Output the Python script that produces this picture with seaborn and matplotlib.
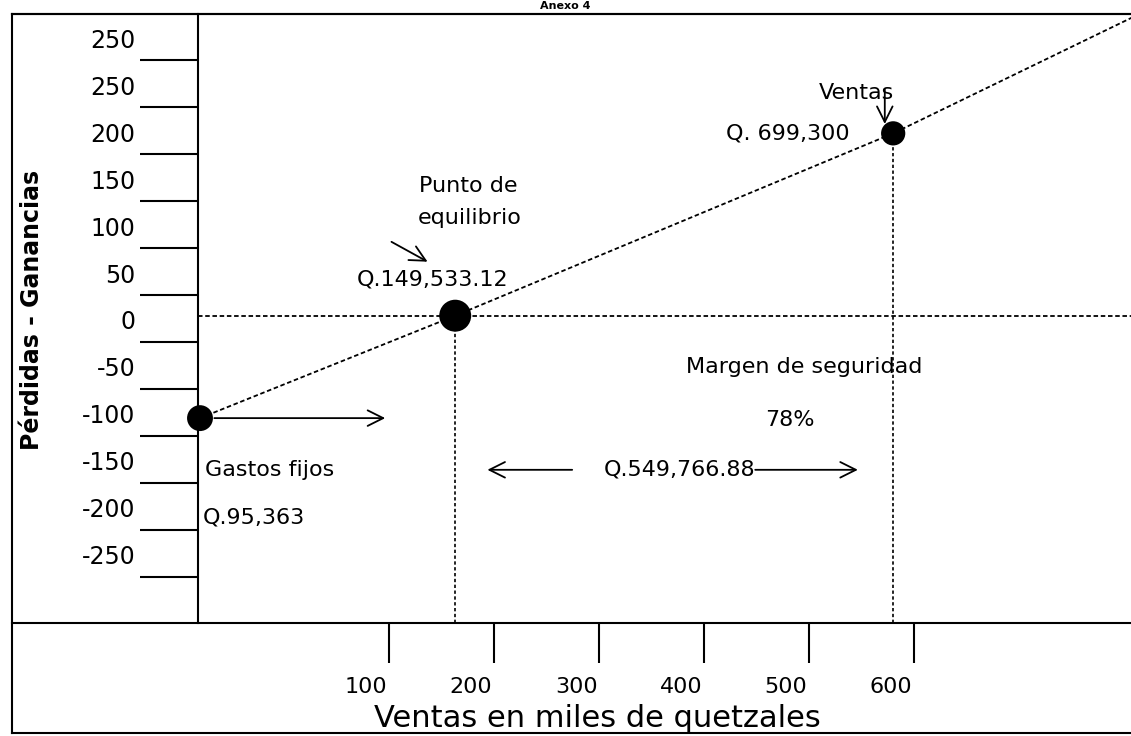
import numpy as np
import pandas as pd
import seaborn as sns
import matplotlib.pyplot as plt
import matplotlib.transforms as mtransforms

# valores (escala de los ticks, miles de quetzales)
puntos = ["Gastos fijos", "Punto de equilibrio", "Ventas"]
ventas_miles = [-80, 163, 580]
resultado_miles = [-81, 28, 222]
tamano_punto = [300, 470, 260]

# recta de ingresos / costos (sigue hasta la esquina)
recta_x = [-80, 163, 580, 807]
recta_y = [-81, 28, 222, 345]

x_ticks = [100, 200, 300, 400, 500, 600]
x_labels = ["100", "200", "300", "400", "500", "600"]
y_ticks = [300, 250, 200, 150, 100, 50, 0, -50, -100, -150, -200, -250]
y_labels = ["250", "250", "200", "150", "100", "50", "0", "-50", "-100", "-150", "-200", "-250"]
eje_y = -82  # cruce del eje vertical

df = pd.DataFrame({"punto": puntos, "ventas": ventas_miles, "resultado": resultado_miles,
                   "tam": tamano_punto})
recta = pd.DataFrame({"ventas": recta_x, "resultado": recta_y})

sns.set_style("white")
plt.rcParams["font.family"] = ["DejaVu Sans"]
plt.rcParams["text.color"] = "black"
plt.rcParams["axes.labelcolor"] = "black"
plt.rcParams["xtick.color"] = "black"
plt.rcParams["ytick.color"] = "black"

fig = plt.figure(figsize=(11.31, 7.36), dpi=100)

# marco exterior
frame = fig.add_axes([12 / 1131, 3 / 736, 1.2, 719 / 736])
frame.set_xticks([])
frame.set_yticks([])
frame.patch.set_alpha(0)
for s in frame.spines.values():
    s.set_linewidth(1.5)
    s.set_color("black")

ax = fig.add_axes([12 / 1131, 113 / 736, 1128 / 1131, 609 / 736])
ax.patch.set_alpha(0)
ax.set_xlim(-259, 815)
ax.set_ylim(-299, 349)

sns.lineplot(data=recta, x="ventas", y="resultado", sort=False, color="black",
             lw=1.3, linestyle=(0, (2.5, 1.5)), ax=ax)
ax.hlines(resultado_miles[1], eje_y, 815, color="black", lw=1.3, linestyles=[(0, (2.5, 1.5))])
ax.vlines(ventas_miles[1:], -299, resultado_miles[1:], color="black", lw=1.2,
          linestyles=[(0, (2, 1.5))])
sns.scatterplot(data=df, x="ventas", y="resultado", size="tam", sizes=(260, 470),
                color="black", edgecolor="black", legend=False, ax=ax, zorder=5)

# ejes
ax.spines["left"].set_position(("data", eje_y))
ax.spines["right"].set_visible(False)
for k in ["left", "top", "bottom"]:
    ax.spines[k].set_linewidth(1.5)
    ax.spines[k].set_color("black")

ax.set_yticks(y_ticks)
ax.set_yticklabels(y_labels, fontsize=17)
ax.set_xticks(x_ticks)
ax.set_xticklabels(x_labels, fontsize=16)
ax.tick_params(axis="y", direction="out", length=42, width=1.5, pad=3, left=True)
ax.tick_params(axis="x", direction="out", length=29, width=1.5, pad=10, bottom=True)
up = mtransforms.ScaledTranslation(0, 0.22, fig.dpi_scale_trans)
for lab in ax.get_yticklabels():
    lab.set_transform(lab.get_transform() + up)
left = mtransforms.ScaledTranslation(-0.23, 0, fig.dpi_scale_trans)
for lab in ax.get_xticklabels():
    lab.set_transform(lab.get_transform() + left)

ax.set_xlabel("Ventas en miles de quetzales", fontsize=22, va="center")
ax.xaxis.set_label_coords(0.519, -0.156)
ax.set_ylabel("Pérdidas - Ganancias", fontsize=17, fontweight="bold", va="center")
ax.yaxis.set_label_coords(0.0177, 0.514)

# textos
fs = 16
ax.text(175, 166, "Punto de", fontsize=fs, ha="center", va="center")
ax.text(177, 132, "equilibrio", fontsize=fs, ha="center", va="center")
ax.text(141, 66, "Q.149,533.12", fontsize=fs, ha="center", va="center")
ax.text(545, 265, "Ventas", fontsize=fs, ha="center", va="center")
ax.text(539, 222, "Q. 699,300", fontsize=fs, ha="right", va="center")
ax.text(-75, -136, "Gastos fijos", fontsize=fs, ha="left", va="center")
ax.text(-77, -187, "Q.95,363", fontsize=fs, ha="left", va="center")
ax.text(495, -27, "Margen de seguridad", fontsize=fs, ha="center", va="center")
ax.text(482, -83, "78%", fontsize=fs, ha="center", va="center")
ax.text(377, -136, "Q.549,766.88", fontsize=fs, ha="center", va="center")

flecha = dict(arrowstyle="->", lw=1.3, color="black", mutation_scale=28)
ax.annotate("", xy=(139, 84), xytext=(100, 108), arrowprops=flecha)
ax.annotate("", xy=(572, 229), xytext=(572, 272), arrowprops=flecha)
ax.annotate("", xy=(99, -81), xytext=(-69, -81), arrowprops=flecha)
ax.annotate("", xy=(191, -136), xytext=(277, -136), arrowprops=flecha)
ax.annotate("", xy=(549, -136), xytext=(446, -136), arrowprops=flecha)

fig.text(0.5, 0.999, "Anexo 4", ha="center", va="top", fontsize=8, fontweight="bold")

fig.savefig("out.png", dpi=100)
